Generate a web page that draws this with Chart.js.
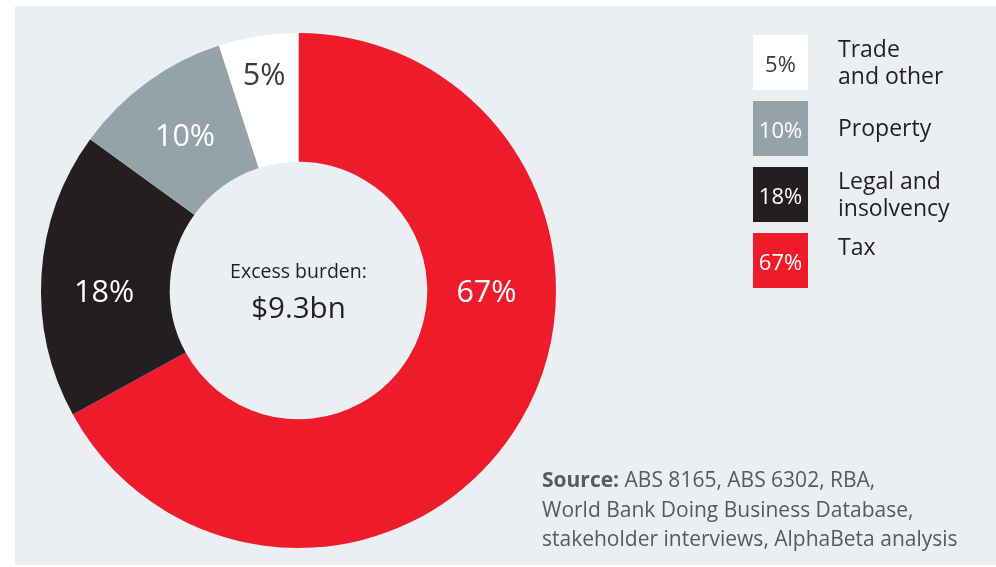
<!DOCTYPE html>
<html>
<head>
<meta charset="utf-8">
<script src="https://cdn.jsdelivr.net/npm/chart.js@4"></script>
<style>
  html, body { margin: 0; padding: 0; background: #fff; }
  #wrap { position: relative; width: 996px; height: 567px; overflow: hidden; }
  #panel { position: absolute; left: 15px; top: 6px; right: 0; bottom: 2px; background: #ebeff2; }
  #grafico { position: absolute; left: 0; top: 0; }
</style>
</head>
<body>
<div id="wrap">
  <div id="panel"></div>
  <canvas id="grafico" width="996" height="567"></canvas>
</div>
<script>
// Categorias y porcentajes (orden del anillo, en sentido horario desde arriba)
const categorias = ['Tax', 'Legal and\ninsolvency', 'Property', 'Trade\nand other'];
const porcentajes = [67, 18, 10, 5];
const colores = ['#ee1c2b', '#231f20', '#94a3a9', '#ffffff'];
const colorTexto = ['#ffffff', '#ffffff', '#ffffff', '#3a3a3a'];

const tituloCentro = 'Excess burden:';
const valorCentro = '$9.3bn';
const fuente = [
  ['Source: ', 'ABS 8165, ABS 6302, RBA,'],
  ['', 'World Bank Doing Business Database,'],
  ['', 'stakeholder interviews, AlphaBeta analysis']
];

const FAMILIA = '"Open Sans", "Noto Sans", sans-serif';

// Etiquetas dentro de cada porcion + texto del centro
const etiquetasAnillo = {
  id: 'etiquetasAnillo',
  afterDatasetsDraw(chart, args, opts) {
    const ctx = chart.ctx;
    const arcos = chart.getDatasetMeta(0).data;
    ctx.save();
    ctx.textAlign = 'center';
    ctx.textBaseline = 'middle';
    arcos.forEach((arco, i) => {
      const p = arco.getProps(['x', 'y', 'startAngle', 'endAngle', 'innerRadius', 'outerRadius']);
      const ang = opts.angulo[i] !== null ? opts.angulo[i] : (p.startAngle + p.endAngle) / 2;
      const r = p.innerRadius + (p.outerRadius - p.innerRadius) * opts.radio[i];
      ctx.fillStyle = colorTexto[i];
      ctx.font = '30.5px ' + FAMILIA;
      ctx.fillText(porcentajes[i] + '%', p.x + Math.cos(ang) * r, p.y + Math.sin(ang) * r + 3);
    });
    // texto del centro
    const c = arcos[0];
    ctx.fillStyle = '#231f20';
    ctx.font = '19.5px ' + FAMILIA;
    ctx.fillText(tituloCentro, c.x, c.y - 18);
    ctx.font = '29.5px ' + FAMILIA;
    ctx.fillText(valorCentro, c.x, c.y + 19);
    ctx.restore();
  }
};

// Leyenda de cuadros a la derecha y nota de fuente
const leyendaCuadros = {
  id: 'leyendaCuadros',
  afterDraw(chart, args, opts) {
    const ctx = chart.ctx;
    ctx.save();
    // la leyenda va de la porcion mas chica a la mas grande
    for (let k = 0; k < categorias.length; k++) {
      const i = categorias.length - 1 - k;
      const top = opts.y + k * opts.paso;
      ctx.fillStyle = colores[i];
      ctx.fillRect(opts.x, top, opts.lado, opts.lado);
      ctx.fillStyle = colorTexto[i];
      ctx.font = '22px ' + FAMILIA;
      ctx.textAlign = 'center';
      ctx.textBaseline = 'middle';
      ctx.fillText(porcentajes[i] + '%', opts.x + opts.lado / 2, top + opts.lado / 2 + 3);

      ctx.fillStyle = '#231f20';
      ctx.font = '23px ' + FAMILIA;
      ctx.textAlign = 'left';
      ctx.textBaseline = 'alphabetic';
      const lineas = categorias[i].split('\n');
      lineas.forEach((l, j) => {
        ctx.fillText(l, opts.xTexto, top + 22 + opts.desplaza[k] + j * 27);
      });
    }
    // fuente
    ctx.fillStyle = '#58595b';
    ctx.textAlign = 'left';
    fuente.forEach((linea, j) => {
      let x = 542;
      const y = 487 + j * 29.5;
      if (linea[0]) {
        ctx.font = 'bold 21px ' + FAMILIA;
        ctx.fillText(linea[0], x, y);
        x += ctx.measureText(linea[0]).width;
      }
      ctx.font = '21px ' + FAMILIA;
      ctx.fillText(linea[1], x, y);
    });
    ctx.restore();
  }
};

const ctx = document.getElementById('grafico').getContext('2d');

new Chart(ctx, {
  type: 'doughnut',
  data: {
    labels: categorias,
    datasets: [{
      data: porcentajes,
      backgroundColor: colores,
      borderWidth: 0
    }]
  },
  options: {
    responsive: false,
    animation: false,
    cutout: '50%',
    layout: { padding: { left: 41, top: 33, right: 440, bottom: 19 } },
    plugins: {
      legend: { display: false },
      tooltip: { enabled: false },
      etiquetasAnillo: {
        angulo: [0, Math.PI, null, null],
        radio: [0.46, 0.51, 0.5, 0.71]
      },
      leyendaCuadros: {
        x: 753, y: 35, paso: 66, lado: 55, xTexto: 838,
        desplaza: [0, 13, 0, 0]
      }
    }
  },
  plugins: [etiquetasAnillo, leyendaCuadros]
});
</script>
</body>
</html>
